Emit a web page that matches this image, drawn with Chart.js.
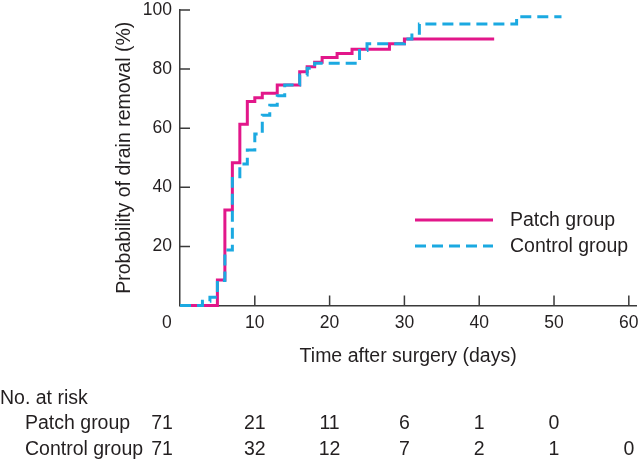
<!DOCTYPE html>
<html>
<head>
<meta charset="utf-8">
<script src="https://cdn.jsdelivr.net/npm/chart.js@4.4.1/dist/chart.umd.min.js"></script>
<style>
  body { margin: 0; background: #fff; }
  #wrap { position: relative; width: 640px; height: 460px; font-family: "Liberation Sans", Arial, sans-serif; color: #231f20; }
  #kmChart { display: block; }
  #riskTable div { position: absolute; font-size: 19.5px; line-height: 22px; white-space: nowrap; }
</style>
</head>
<body>
<div id="wrap">
  <canvas id="kmChart" width="640" height="460"></canvas>
  <div id="riskTable"></div>
</div>
<script>
// Kaplan-Meier steps: day of step, cumulative % drain removed after it
const patchDays = [0, 5, 6, 7, 8, 9, 10, 11, 13, 16, 17, 18, 19, 21, 23, 28, 30, 42];
const patchValues = [0, 8.6, 32.3, 48.3, 61.3, 69, 70.3, 71.8, 74.6, 79.1, 80.8, 82.3, 83.9, 85.3, 86.7, 88.6, 90.2, 90.2];

const controlDays = [0, 3, 4, 5, 6, 7, 8, 9, 10, 11, 12, 13, 14, 16, 17, 18, 24, 25, 30, 31, 32, 45, 51];
const controlValues = [0, 1.4, 2.8, 8.5, 18.8, 43, 47.9, 52.6, 58, 64.4, 67.8, 71, 74.6, 78, 80.3, 82, 86.3, 88.6, 90.2, 92.1, 95.3, 97.7, 97.7];

// numbers at risk table
const riskDays = [0, 10, 20, 30, 40, 50, 60];
const patchAtRisk = [71, 21, 11, 6, 1, 0, null];
const controlAtRisk = [71, 32, 12, 7, 2, 1, 0];

const textColor = '#231f20';
const axisColor = '#3a3a3a';
const patchColor = '#e2178a';
const controlColor = '#1ba9e1';
const fontFamily = '"Liberation Sans", Arial, sans-serif';

const innerTicks = {
    id: 'innerTicks',
    beforeDatasetsDraw(chart) {
        const { ctx, chartArea, scales } = chart;
        ctx.save();
        ctx.strokeStyle = axisColor;
        ctx.lineWidth = 1.5;
        ctx.beginPath();
        scales.x.ticks.forEach(t => {
            if (t.value === 0) return;
            const px = scales.x.getPixelForValue(t.value);
            ctx.moveTo(px, chartArea.bottom);
            ctx.lineTo(px, chartArea.bottom - 10);
        });
        scales.y.ticks.forEach(t => {
            if (t.value === 0) return;
            const py = scales.y.getPixelForValue(t.value);
            ctx.moveTo(chartArea.left, py);
            ctx.lineTo(chartArea.left + 10, py);
        });
        ctx.stroke();
        ctx.restore();
    }
};

const insetLegend = {
    id: 'insetLegend',
    afterDraw(chart) {
        const ctx = chart.ctx;
        chart.data.datasets.forEach((ds, i) => {
            const y = 220 + i * 26;
            ctx.save();
            ctx.strokeStyle = ds.borderColor;
            ctx.lineWidth = ds.borderWidth;
            ctx.setLineDash(ds.borderDash || []);
            ctx.beginPath();
            ctx.moveTo(415, y);
            ctx.lineTo(493, y);
            ctx.stroke();
            ctx.setLineDash([]);
            ctx.fillStyle = textColor;
            ctx.font = '19.5px ' + fontFamily;
            ctx.textBaseline = 'middle';
            ctx.fillText(ds.label, 510, y + 1);
            ctx.restore();
        });
    }
};

const chart = new Chart(document.getElementById('kmChart'), {
    type: 'line',
    data: {
        datasets: [{
            label: 'Patch group',
            data: patchDays.map((d, i) => ({ x: d, y: patchValues[i] })),
            borderColor: patchColor,
            borderWidth: 3,
            stepped: true,
            pointRadius: 0,
            fill: false,
            clip: false,
            borderJoinStyle: 'miter',
            order: 1
        }, {
            label: 'Control group',
            data: controlDays.map((d, i) => ({ x: d, y: controlValues[i] })),
            borderColor: controlColor,
            borderWidth: 3,
            borderDash: [11, 6],
            stepped: true,
            pointRadius: 0,
            fill: false,
            clip: false,
            borderJoinStyle: 'miter',
            order: 0
        }]
    },
    options: {
        responsive: false,
        animation: false,
        events: [],
        layout: { padding: { top: 10, right: 3.7, left: 0, bottom: 0 } },
        plugins: {
            legend: { display: false },
            tooltip: { enabled: false }
        },
        scales: {
            x: {
                type: 'linear',
                min: 0,
                max: 61,
                grid: { display: false, drawTicks: false },
                border: { display: true, color: axisColor, width: 1.5 },
                ticks: {
                    stepSize: 10,
                    includeBounds: false,
                    maxRotation: 0,
                    padding: 7,
                    color: textColor,
                    font: { family: fontFamily, size: 17.5 },
                    callback: v => v === 0 ? '0\u2002\u2002\u2002' : v
                },
                title: {
                    display: true,
                    text: 'Time after surgery (days)',
                    color: textColor,
                    font: { family: fontFamily, size: 19.5 },
                    padding: { top: 0, bottom: 92 }
                },
                afterFit(scale) {
                    scale.height = 154.5;
                    scale.paddingLeft = 0;
                    scale.paddingRight = 0;
                }
            },
            y: {
                min: 0,
                max: 100,
                grid: { display: false, drawTicks: false },
                border: { display: true, color: axisColor, width: 1.5 },
                ticks: {
                    stepSize: 20,
                    padding: 8,
                    color: textColor,
                    font: { family: fontFamily, size: 17.5 },
                    callback: v => v === 0 ? '' : v
                },
                title: {
                    display: true,
                    text: 'Probability of drain removal (%)',
                    color: textColor,
                    font: { family: fontFamily, size: 19.5 },
                    padding: { top: 113, bottom: 0 }
                },
                afterFit(scale) {
                    scale.width = 180;
                    scale.paddingTop = 0;
                    scale.paddingBottom = 0;
                }
            }
        }
    },
    plugins: [innerTicks, insetLegend]
});

// numbers at risk, placed under the x scale
const table = document.getElementById('riskTable');
function addCell(text, left, top, centered) {
    const el = document.createElement('div');
    el.textContent = text;
    el.style.left = left + 'px';
    el.style.top = (top - 11) + 'px';
    if (centered) el.style.transform = 'translateX(-50%)';
    table.appendChild(el);
}
addCell('No. at risk', 0, 397, false);
addCell('Patch group', 25, 422, false);
addCell('Control group', 25, 448, false);
riskDays.forEach((d, i) => {
    let px = chart.scales.x.getPixelForValue(d);
    if (d === 0) px -= 18;
    if (patchAtRisk[i] !== null) addCell(String(patchAtRisk[i]), px, 422, true);
    addCell(String(controlAtRisk[i]), px, 448, true);
});
</script>
</body>
</html>
